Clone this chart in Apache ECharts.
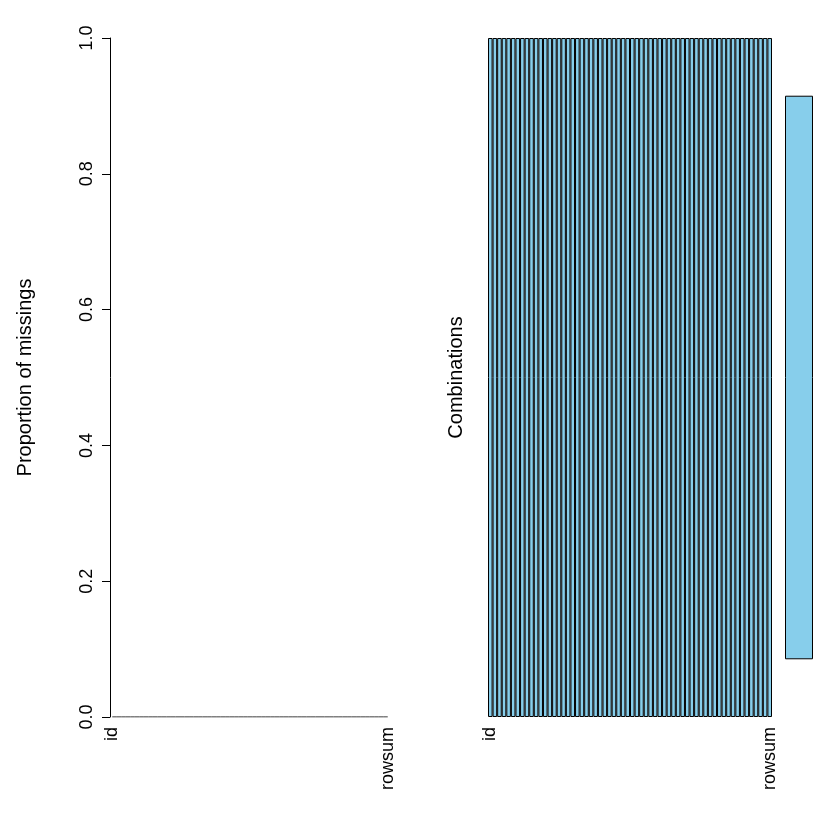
<!DOCTYPE html><html><head><meta charset="utf-8"><script src="https://cdn.jsdelivr.net/npm/echarts@6/dist/echarts.min.js"></script></head><body style="margin:0"><div id="c" style="width:840px;height:840px"></div><script>
const variables = ['id'].concat(Array.from({length:60},(_,i)=>'V'+(i+2))).concat(['rowsum']);
const missingProportion = variables.map(()=>0);
const combination = variables.map(()=>1);
const combinationFrequency = [1];
const yTicks = [0,0.2,0.4,0.6,0.8,1.0];
const F = 'Liberation Sans, Arial, sans-serif';
const lbl = {rotate:90, fontSize:18, color:'#000', fontFamily:F, margin:10,
  interval:(i)=>i===0||i===variables.length-1};
const ch = echarts.init(document.getElementById('c'));
ch.setOption({
  animation:false,
  grid:[{left:110,top:38,width:280,height:679},{left:488,top:38,width:284,height:679},{left:785,top:38,width:28,height:679}],
  xAxis:[
    {gridIndex:0,type:'category',data:variables,boundaryGap:true,axisLine:{show:false},axisTick:{show:false},
     axisLabel:Object.assign({},lbl,{align:'right',verticalAlign:'middle'})},
    {gridIndex:1,type:'category',data:variables,axisLine:{show:false},axisTick:{show:false},
     axisLabel:Object.assign({},lbl,{align:'right',verticalAlign:'middle'})},
    {gridIndex:2,type:'value',min:0,max:1,show:false}
  ],
  yAxis:[
    {gridIndex:0,type:'value',min:0,max:1,interval:0.2,splitLine:{show:false},
     axisLine:{show:true,lineStyle:{color:'#000'}},axisTick:{show:true,length:8,lineStyle:{color:'#000'}},
     axisLabel:{rotate:90,fontSize:18,color:'#000',fontFamily:F,margin:14,formatter:v=>v.toFixed(1),align:'center'},
     name:'Proportion of missings',nameLocation:'middle',nameRotate:90,nameGap:75,
     nameTextStyle:{fontSize:20,color:'#000',fontFamily:F}},
    {gridIndex:1,type:'value',min:0,max:1,show:true,axisLine:{show:false},axisTick:{show:false},axisLabel:{show:false},splitLine:{show:false},
     name:'Combinations',nameLocation:'middle',nameRotate:90,nameGap:22,nameTextStyle:{fontSize:20,color:'#000',fontFamily:F}},
    {gridIndex:2,type:'category',data:['c1'],show:false}
  ],
  series:[
    {type:'line',xAxisIndex:0,yAxisIndex:0,data:missingProportion,symbol:'none',lineStyle:{color:'#000',width:1}},
    {type:'bar',xAxisIndex:1,yAxisIndex:1,data:combination,barWidth:'100%',itemStyle:{color:'#87CEEB',borderColor:'#000',borderWidth:1}},
    {type:'bar',xAxisIndex:2,yAxisIndex:2,data:combinationFrequency,barWidth:'83%',itemStyle:{color:'#87CEEB',borderColor:'#000',borderWidth:1}}
  ]
});
</script></body></html>
